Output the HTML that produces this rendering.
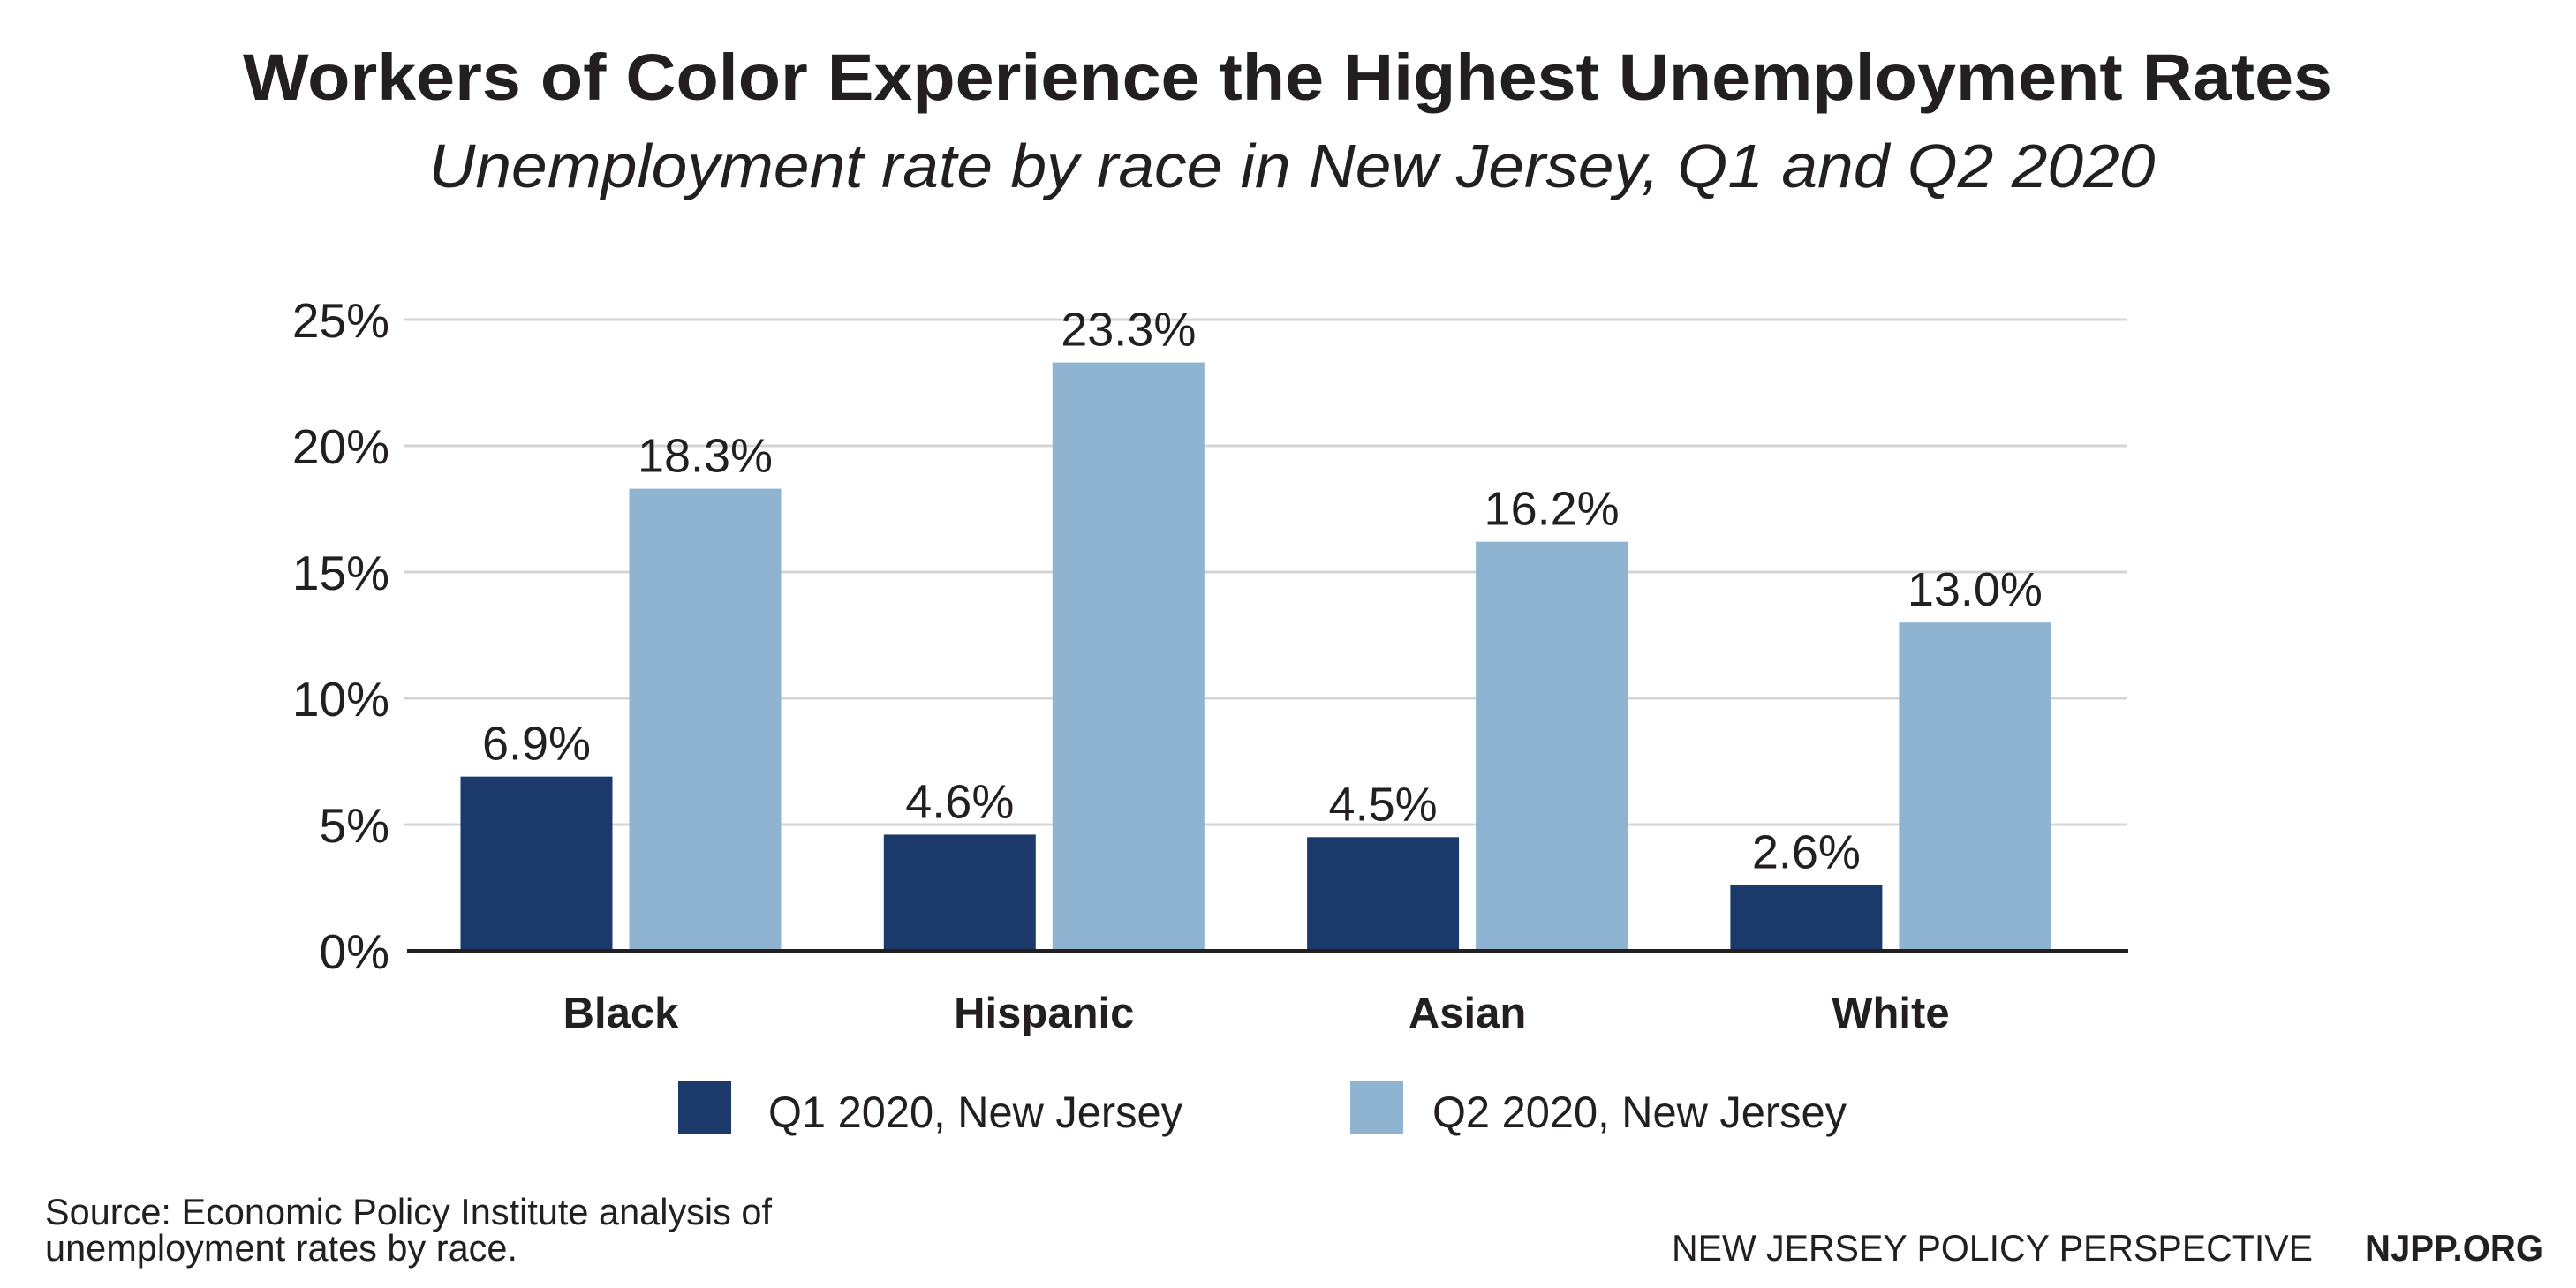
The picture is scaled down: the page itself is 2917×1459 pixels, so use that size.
<!DOCTYPE html>
<html><head><meta charset="utf-8"><style>
html,body{margin:0;padding:0;background:#fff;}
svg{display:block;font-family:"Liberation Sans",Arial,sans-serif;}
</style></head><body>
<svg id="chart" width="2917" height="1459" viewBox="0 0 2917 1459">
<text x="1458" y="113" text-anchor="middle" font-size="74" font-weight="bold" fill="#231f20" textLength="2366" lengthAdjust="spacingAndGlyphs">Workers of Color Experience the Highest Unemployment Rates</text>
<text x="1463" y="212" text-anchor="middle" font-size="70" font-style="italic" fill="#231f20" textLength="1955" lengthAdjust="spacingAndGlyphs">Unemployment rate by race in New Jersey, Q1 and Q2 2020</text>
<g id="grid"></g>
<g id="bars"></g>
<line x1="461" x2="2410" y1="1077" y2="1077" stroke="#231f20" stroke-width="4"/>
<g id="cats"></g>
<rect x="768" y="1224" width="60" height="61" fill="#1b3a6b"/>
<text x="870" y="1277" font-size="50" fill="#231f20" textLength="469" lengthAdjust="spacingAndGlyphs">Q1 2020, New Jersey</text>
<rect x="1529" y="1224" width="60" height="61" fill="#8fb4d2"/>
<text x="1622" y="1277" font-size="50" fill="#231f20" textLength="469" lengthAdjust="spacingAndGlyphs">Q2 2020, New Jersey</text>
<text x="51" y="1387" font-size="42" fill="#231f20" textLength="823" lengthAdjust="spacingAndGlyphs">Source: Economic Policy Institute analysis of</text>
<text x="51" y="1428" font-size="42" fill="#231f20" textLength="535" lengthAdjust="spacingAndGlyphs">unemployment rates by race.</text>
<text x="1893" y="1428" font-size="42" fill="#231f20" textLength="726" lengthAdjust="spacingAndGlyphs">NEW JERSEY POLICY PERSPECTIVE</text>
<text x="2678" y="1428" font-size="42" font-weight="bold" fill="#231f20" textLength="202" lengthAdjust="spacingAndGlyphs">NJPP.ORG</text>
</svg>
<script>
const categories = ["Black", "Hispanic", "Asian", "White"];
const q1Values = [6.9, 4.6, 4.5, 2.6];
const q2Values = [18.3, 23.3, 16.2, 13.0];
const yTicks = [0, 5, 10, 15, 20, 25];
const yTickLabels = ["0%", "5%", "10%", "15%", "20%", "25%"];

const NS = "http://www.w3.org/2000/svg";
const y0 = 1077, pxPerUnit = 28.6;
function yScale(v){ return y0 - v * pxPerUnit; }
function groupCenter(i){ return 703 + i * 479.3; }
const barW = 172, gap = 19;

function mk(tag, attrs, parent){
  const e = document.createElementNS(NS, tag);
  for (const k in attrs) e.setAttribute(k, attrs[k]);
  parent.appendChild(e);
  return e;
}
const grid = document.getElementById("grid");
const bars = document.getElementById("bars");
const cats = document.getElementById("cats");

yTicks.forEach((t, i) => {
  if (t > 0) {
    const l = mk("line", {x1: 457, x2: 2408, y1: yScale(t), y2: yScale(t), stroke: "#d4d4d4", "stroke-width": 3}, grid);
    
    
  }
  const tx = mk("text", {x: 441, y: yScale(t) + 20, "text-anchor": "end", "font-size": 55, fill: "#231f20"}, grid);
  tx.textContent = yTickLabels[i];
  
  
});

categories.forEach((c, i) => {
  const cx = groupCenter(i);
  const series = [[q1Values[i], "#1b3a6b", cx - gap/2 - barW], [q2Values[i], "#8fb4d2", cx + gap/2]];
  series.forEach((s, j) => {
    const v = s[0];
    const r = mk("rect", {x: s[2], y: yScale(v), width: barW, height: y0 - yScale(v), fill: s[1]}, bars);
    
    
    const lb = mk("text", {x: s[2] + barW/2, y: yScale(v) - 19, "text-anchor": "middle", "font-size": 54, fill: "#231f20"}, bars);
    lb.textContent = v.toFixed(1) + "%";
    
    
  });
  const ct = mk("text", {x: cx, y: 1164, "text-anchor": "middle", "font-size": 49, "font-weight": "bold", fill: "#231f20"}, cats);
  ct.textContent = c;
  
  
});
</script>
</body></html>
